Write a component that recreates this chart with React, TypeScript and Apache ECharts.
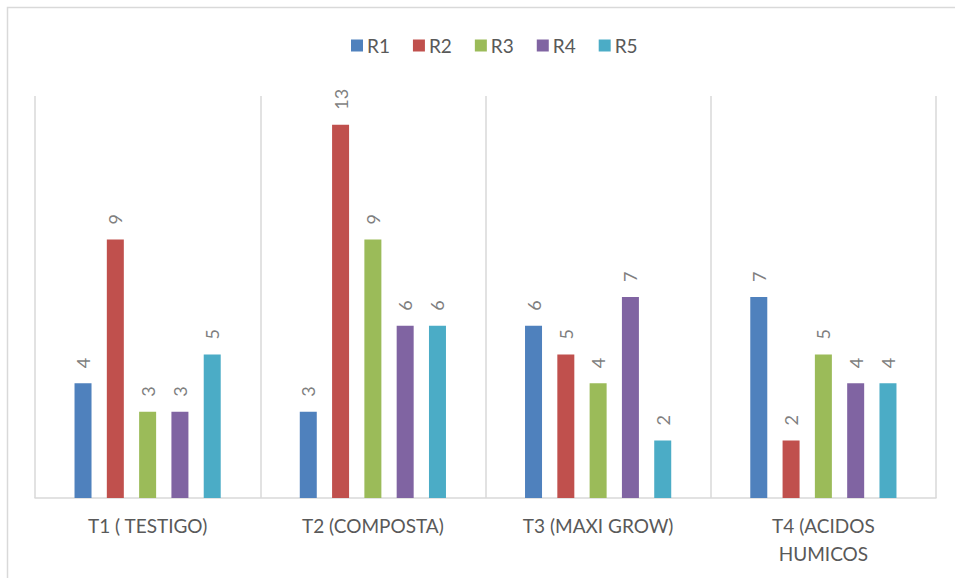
import React, { useEffect, useRef } from "react";
import * as echarts from "echarts";

// Treatments on the x axis and the five replicate counts per treatment
const categories = ["T1 ( TESTIGO)", "T2 (COMPOSTA)", "T3 (MAXI GROW)", "T4 (ACIDOS HUMICOS"];
const seriesNames = ["R1", "R2", "R3", "R4", "R5"];
const r1 = [4, 3, 6, 7];
const r2 = [9, 13, 5, 2];
const r3 = [3, 9, 4, 5];
const r4 = [3, 6, 7, 4];
const r5 = [5, 6, 2, 4];
const seriesValues = [r1, r2, r3, r4, r5];
const colors = ["#4f81bd", "#c0504d", "#9bbb59", "#8064a2", "#4bacc6"];

const FONT = "Lato, 'Noto Sans', sans-serif";

export default function App() {
  const ref = useRef<HTMLDivElement>(null);

  useEffect(() => {
    if (!ref.current) return;
    const chart = echarts.init(ref.current, null, { renderer: "svg" });
    chart.setOption({
      animation: false,
      backgroundColor: "#ffffff",
      textStyle: { fontFamily: FONT },
      graphic: [
        {
          type: "rect",
          left: 5,
          top: 5,
          shape: { width: 960, height: 590 },
          style: { fill: "none", stroke: "#d9d9d9", lineWidth: 1.5 },
          silent: true,
          z: -1,
        },
      ],
      legend: {
        top: 31,
        left: 346,
        itemWidth: 12,
        itemHeight: 12,
        itemGap: 23,
        icon: "rect",
        textStyle: { color: "#595959", fontSize: 19, fontFamily: FONT, padding: [0, 0, 0, -1] },
        data: seriesNames,
      },
      grid: { left: 35, right: 19, top: 96, bottom: 80 },
      xAxis: {
        type: "category",
        data: categories,
        axisLine: { lineStyle: { color: "#d9d9d9", width: 1.5 } },
        axisTick: { show: false },
        splitLine: { show: true, lineStyle: { color: "#d9d9d9", width: 1.5 } },
        axisLabel: {
          interval: 0,
          margin: 13,
          color: "#595959",
          fontSize: 19,
          lineHeight: 28,
          fontFamily: FONT,
          formatter: (name: string) => {
            if (name.length <= 16) return name;
            const idx = name.lastIndexOf(" ");
            return name.slice(0, idx) + "\n" + name.slice(idx + 1);
          },
        },
      },
      yAxis: {
        type: "value",
        min: 0,
        max: 14,
        show: false,
        splitLine: { show: false },
      },
      series: seriesNames.map((name, i) => ({
        name,
        type: "bar",
        data: seriesValues[i],
        barWidth: 17,
        barGap: "90%",
        itemStyle: { color: colors[i] },
        label: {
          show: true,
          position: "top",
          rotate: 90,
          align: "left",
          verticalAlign: "middle",
          distance: 15,
          color: "#7f7f7f",
          fontSize: 18,
          fontFamily: FONT,
        },
      })),
    });
    return () => chart.dispose();
  }, []);

  return (
    <div
      ref={ref}
      style={{ position: "fixed", left: 0, top: 0, width: 955, height: 578 }}
    />
  );
}
